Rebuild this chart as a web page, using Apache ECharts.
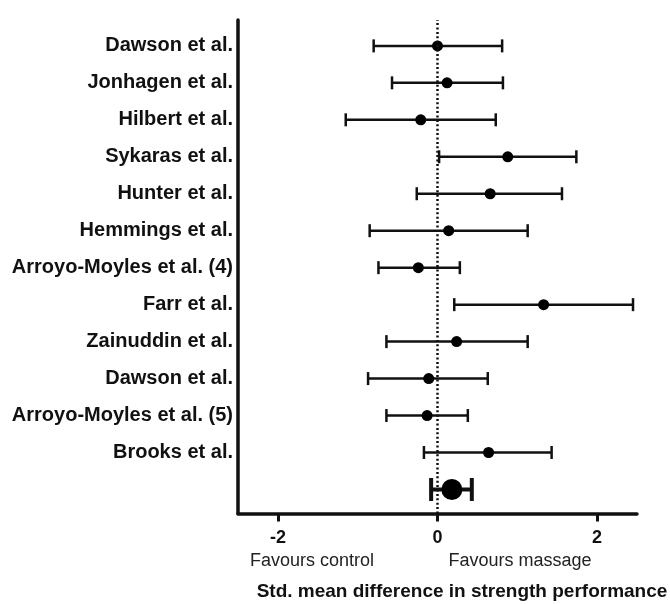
<!DOCTYPE html>
<html><head><meta charset="utf-8">
<script src="https://cdn.jsdelivr.net/npm/echarts@6/dist/echarts.min.js"></script>
<style>html,body{margin:0;padding:0;background:#fff}#c{width:670px;height:604px}</style>
</head><body><div id="c"></div>
<script>
const studies = ['Dawson et al.','Jonhagen et al.','Hilbert et al.','Sykaras et al.','Hunter et al.','Hemmings et al.','Arroyo-Moyles et al. (4)','Farr et al.','Zainuddin et al.','Dawson et al.','Arroyo-Moyles et al. (5)','Brooks et al.'];
const smd   = [0.00, 0.12, -0.21, 0.88, 0.66, 0.14, -0.24, 1.33, 0.24, -0.11, -0.13, 0.64];
const lower = [-0.80, -0.57, -1.15, 0.02, -0.26, -0.85, -0.74, 0.21, -0.64, -0.87, -0.64, -0.17];
const upper = [0.81, 0.82, 0.73, 1.74, 1.56, 1.13, 0.28, 2.45, 1.13, 0.63, 0.38, 1.43];
const pooledEst = [0.18];
const pooledLo = [-0.08];
const pooledHi = [0.43];
const xTicks = [-2, 0, 2];
const xNotes = ['Favours control', 'Favours massage'];
const xTitle = 'Std. mean difference in strength performance';

const n = studies.length;
const rowOf = i => n + 1 - i;           // study rows: 13 .. 2, pooled row: 1
const studyRows = studies.map((s, i) => rowOf(i));
const rowLabel = {};
studies.forEach((s, i) => { rowLabel[rowOf(i)] = s; });

function errRender(lw, capH) {
  return function (params, api) {
    const y = api.value(2);
    const a = api.coord([api.value(0), y]);
    const b = api.coord([api.value(1), y]);
    const st = { stroke: '#111', lineWidth: lw, fill: null };
    return {
      type: 'group',
      children: [
        { type: 'line', shape: { x1: a[0], y1: a[1], x2: b[0], y2: b[1] }, style: st },
        { type: 'line', shape: { x1: a[0], y1: a[1] - capH / 2, x2: a[0], y2: a[1] + capH / 2 }, style: st },
        { type: 'line', shape: { x1: b[0], y1: b[1] - capH / 2, x2: b[0], y2: b[1] + capH / 2 }, style: st }
      ]
    };
  };
}

const chart = echarts.init(document.getElementById('c'), null, { renderer: 'canvas' });
chart.setOption({
  animation: false,
  backgroundColor: '#fff',
  grid: { left: 238, right: 33, top: 20, bottom: 90.5 },
  xAxis: {
    type: 'value', min: -2.5, max: 2.5,
    axisLine: { onZero: false, lineStyle: { color: '#111', width: 3.5 } },
    axisTick: { customValues: xTicks, length: 8, lineStyle: { color: '#111', width: 3 } },
    axisLabel: { customValues: xTicks, margin: 16, color: '#111', fontSize: 18, fontWeight: 'bold', fontFamily: 'Liberation Sans, Arial, sans-serif' },
    splitLine: { show: false }
  },
  yAxis: {
    type: 'value', min: 0.35, max: 13.7,
    axisLine: { show: true, onZero: false, lineStyle: { color: '#111', width: 3.5 } },
    axisTick: { show: false },
    axisLabel: {
      customValues: studyRows, margin: 5, color: '#111', fontSize: 20, fontWeight: 'bold',
      fontFamily: 'Liberation Sans, Arial, sans-serif',
      formatter: v => rowLabel[Math.round(v)] || ''
    },
    splitLine: { show: false }
  },
  series: [
    {
      type: 'custom', renderItem: errRender(2.5, 13),
      encode: { x: [0, 1], y: 2 },
      data: studies.map((s, i) => [lower[i], upper[i], rowOf(i)]),
      z: 2
    },
    {
      type: 'custom', renderItem: errRender(4, 23),
      encode: { x: [0, 1], y: 2 },
      data: [[pooledLo[0], pooledHi[0], 1]],
      z: 2
    },
    {
      type: 'scatter', symbol: 'circle', symbolSize: 11,
      itemStyle: { color: '#000', opacity: 1 },
      data: studies.map((s, i) => [smd[i], rowOf(i)]),
      z: 3,
      markLine: {
        silent: true, symbol: 'none', label: { show: false },
        lineStyle: { color: '#111', width: 2.5, type: [2, 2.4], opacity: 1 },
        data: [{ xAxis: 0 }]
      }
    },
    {
      type: 'scatter', symbol: 'circle', symbolSize: 21,
      itemStyle: { color: '#000', opacity: 1 },
      data: [[pooledEst[0], 1]],
      z: 3
    }
  ],
  graphic: [
    { type: 'text', style: { text: xNotes[0], x: 312, y: 561, align: 'center', verticalAlign: 'middle', fill: '#222', font: '18px "Liberation Sans", Arial, sans-serif' } },
    { type: 'text', style: { text: xNotes[1], x: 520, y: 561, align: 'center', verticalAlign: 'middle', fill: '#222', font: '18px "Liberation Sans", Arial, sans-serif' } },
    { type: 'text', style: { text: xTitle, x: 462, y: 592, align: 'center', verticalAlign: 'middle', fill: '#111', font: 'bold 19px "Liberation Sans", Arial, sans-serif' } }
  ]
});
</script>
</body></html>
